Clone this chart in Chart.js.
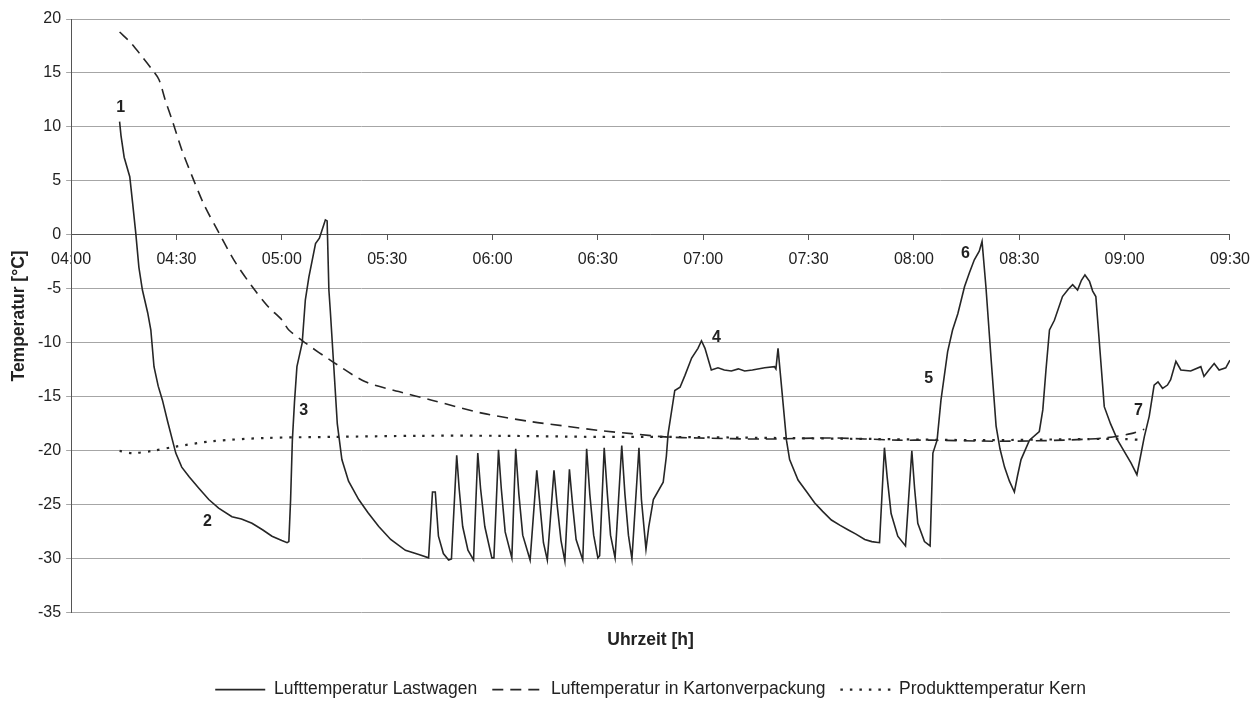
<!DOCTYPE html>
<html>
<head>
<meta charset="utf-8">
<script src="https://cdn.jsdelivr.net/npm/chart.js@4.4.0/dist/chart.umd.min.js"></script>
<style>
html, body { margin: 0; padding: 0; background: #fff; overflow: hidden; }
#wrap { width: 1260px; height: 703px; }
</style>
</head>
<body>
<div id="wrap"><canvas id="tempChart"></canvas></div>
<script>
// minutes after 04:00
var xTickLabels = ['04:00', '04:30', '05:00', '05:30', '06:00', '06:30', '07:00', '07:30', '08:00', '08:30', '09:00', '09:30'];

var truckTime = [13.8, 14.2, 15.1, 16.7, 17.5, 18.4, 19.3, 20.3, 21.8, 22.7, 23.6, 24.8, 26.0, 27.5, 29.8, 31.5, 33.6, 36.5, 39.2, 42, 45.8, 48.5, 51.5, 54.5, 57.2, 60, 61.5, 62.0, 62.5, 63.0, 63.6, 64.3, 65.8, 66.7, 67.7, 69.6, 70.7, 72.0, 72.4, 72.9, 73.4, 73.8, 74.8, 75.8, 77.1, 79.0, 81.9, 84.5, 87.6, 91, 95.2, 99, 101.8, 102.5, 102.9, 103.7, 104.6, 106, 107.5, 108.3, 109.8, 110.5, 111.5, 113, 114.6, 115.8, 116.6, 117.8, 119.8, 120.4, 121.7, 122.5, 123.6, 125.5, 126.6, 127.5, 128.6, 130.7, 132.6, 133.5, 134.5, 135.6, 137.5, 138.4, 139.5, 140.6, 141.9, 142.8, 143.8, 145.7, 146.8, 147.7, 148.8, 150, 150.5, 151.8, 152.7, 153.6, 154.9, 156.8, 157.7, 158.7, 159.7, 161.7, 162.4, 163.7, 164.5, 165.8, 168.6, 169.5, 170, 171.9, 173.4, 174.8, 176.7, 178.5, 179.5, 180.5, 182.3, 184.2, 186, 188, 190, 191.8, 194, 197.5, 200.3, 200.7, 201.3, 202.2, 203.7, 204.6, 207, 209.5, 211.7, 214, 216.5, 219, 221.2, 223.5, 226, 228, 230.2, 231.6, 232.4, 233.5, 235.4, 237.6, 239.4, 240.2, 241.1, 243, 244.6, 245.4, 246.6, 247.7, 249.6, 251, 252.5, 254.4, 255.8, 257.2, 258.6, 259.4, 260.5, 262, 263.4, 264.5, 265.8, 267.2, 268.6, 269.5, 270.5, 272.9, 275.7, 276.7, 277.6, 278.6, 280, 282.3, 284, 285.2, 286.6, 287.7, 288.7, 290, 290.9, 291.8, 294.2, 296, 298, 301.8, 303.5, 305.6, 307, 308.4, 309.5, 310.8, 312.2, 313.1, 314.6, 316, 318.8, 321.7, 322.6, 324, 325.5, 326.9, 328.8, 330];
var truckTemp = [10.5, 9.2, 7.2, 5.4, 3.0, 0.2, -3.0, -5.1, -7.2, -8.8, -12.2, -14.0, -15.3, -17.3, -20.2, -21.5, -22.4, -23.5, -24.5, -25.3, -26.1, -26.3, -26.7, -27.3, -27.9, -28.3, -28.5, -28.4, -24.5, -19.0, -15.5, -12.2, -10.0, -6.0, -3.9, -0.8, -0.3, 1.0, 1.4, 1.3, -5.1, -7.0, -12.2, -17.5, -20.8, -22.8, -24.5, -25.7, -27.0, -28.2, -29.2, -29.6, -29.9, -26.0, -23.8, -23.8, -27.9, -29.5, -30.1, -30.0, -20.4, -23.5, -27.0, -29.2, -30.1, -20.2, -23.5, -27.0, -29.9, -29.9, -19.9, -23.5, -27.5, -29.9, -19.8, -24.0, -27.8, -30.1, -21.8, -25.0, -28.5, -30.1, -21.8, -25.0, -28.3, -30.2, -21.7, -25.0, -28.2, -30.1, -19.8, -24.0, -27.8, -29.9, -29.7, -19.7, -24.0, -27.8, -29.9, -19.5, -24.0, -27.8, -30.0, -19.7, -24.5, -29.1, -27.0, -24.5, -22.9, -20.5, -18.4, -14.4, -14.1, -13.0, -11.4, -10.5, -9.8, -10.5, -12.5, -12.3, -12.5, -12.6, -12.4, -12.6, -12.5, -12.3, -12.2, -12.4, -10.5, -13.7, -19.0, -20.8, -22.7, -23.8, -24.8, -25.6, -26.4, -26.9, -27.3, -27.7, -28.2, -28.4, -28.5, -19.7, -22.5, -25.8, -27.9, -28.8, -20.0, -23.5, -26.7, -28.4, -28.8, -20.2, -19.0, -15.3, -10.8, -8.8, -7.3, -4.8, -3.5, -2.3, -1.5, -0.6, -4.8, -11.6, -17.7, -19.8, -21.5, -22.8, -23.8, -22.3, -20.8, -19.0, -18.2, -16.2, -12.5, -8.8, -7.9, -5.7, -5.0, -4.6, -5.1, -4.2, -3.7, -4.3, -5.2, -5.7, -15.9, -17.5, -19.0, -21.1, -22.2, -18.7, -16.8, -13.9, -13.6, -14.2, -13.9, -13.4, -11.7, -12.5, -12.6, -12.2, -13.1, -12.5, -11.9, -12.5, -12.3, -11.6];

var boxTime = [13.8, 17, 20, 23.1, 25, 26.8, 28.8, 31.5, 34.5, 38, 42.1, 46.5, 51.6, 56, 60.1, 62, 66.7, 74.3, 83.8, 93.3, 102.7, 117, 131.2, 140.7, 150.1, 159.6, 169.1, 178.6, 197.5, 216.5, 235.4, 244.9, 263.9, 282.8, 294.2, 301.8, 305.6];
var boxTemp = [18.8, 17.8, 16.6, 15.3, 14.4, 12.5, 10.6, 7.9, 5.4, 2.7, 0.2, -2.4, -4.8, -6.6, -7.9, -8.8, -10.0, -11.7, -13.6, -14.5, -15.3, -16.5, -17.3, -17.7, -18.1, -18.4, -18.7, -18.8, -18.9, -18.8, -19.0, -19.0, -19.1, -19.0, -18.8, -18.4, -18.0];

var coreTime = [13.8, 17.4, 23.1, 29.8, 40.2, 55.4, 74.3, 99, 121.7, 150, 169, 200, 230, 260, 290, 300, 305.6];
var coreTemp = [-20.0, -20.2, -20.0, -19.6, -19.1, -18.8, -18.7, -18.6, -18.6, -18.7, -18.7, -18.8, -18.9, -19.0, -18.9, -18.9, -19.0];

var markerText = ['1', '2', '3', '4', '5', '6', '7'];
var markerTime = [14.1, 38.8, 66.2, 183.8, 244.2, 254.7, 303.9];
var markerTemp = [11.8, -26.5, -16.3, -9.5, -13.3, -1.7, -16.3];

function toPoints(xs, ys) {
    var pts = [];
    for (var i = 0; i < xs.length; i++) {
        pts.push({x: xs[i], y: ys[i]});
    }
    return pts;
}

// the numbers 1..7 written next to the curve
var markerPlugin = {
    id: 'markers',
    afterDatasetsDraw: function(chart) {
        var ctx = chart.ctx, xs = chart.scales.x, ys = chart.scales.y;
        ctx.save();
        ctx.font = 'bold 16px "Liberation Sans", Arial, sans-serif';
        ctx.fillStyle = '#222';
        ctx.textAlign = 'center';
        ctx.textBaseline = 'middle';
        for (var i = 0; i < markerText.length; i++) {
            ctx.fillText(markerText[i], xs.getPixelForValue(markerTime[i]), ys.getPixelForValue(markerTemp[i]));
        }
        ctx.restore();
    }
};

Chart.defaults.font.family = '"Liberation Sans", Arial, sans-serif';
Chart.defaults.font.size = 16;
Chart.defaults.color = '#222';

var tempCtx = document.getElementById('tempChart').getContext('2d');
var tempChart = new Chart(tempCtx, {
    type: 'line',
    data: {
        datasets: [{
            label: 'Lufttemperatur Lastwagen',
            data: toPoints(truckTime, truckTemp),
            borderColor: '#262626',
            borderWidth: 1.6,
            pointRadius: 0,
            tension: 0,
            fill: false
        }, {
            label: 'Luftemperatur in Kartonverpackung',
            data: toPoints(boxTime, boxTemp),
            borderColor: '#262626',
            borderWidth: 1.6,
            borderDash: [11, 7],
            pointRadius: 0,
            tension: 0.3,
            fill: false
        }, {
            label: 'Produkttemperatur Kern',
            data: toPoints(coreTime, coreTemp),
            borderColor: '#262626',
            borderWidth: 2.2,
            borderDash: [2.5, 7],
            pointRadius: 0,
            tension: 0.3,
            fill: false
        }]
    },
    options: {
        responsive: true,
        maintainAspectRatio: false,
        animation: false,
        layout: { padding: { left: 8, right: 18, top: 19, bottom: -5.4 } },
        scales: {
            x: {
                type: 'linear',
                position: { y: 0 },
                min: 0,
                max: 330,
                ticks: {
                    stepSize: 30,
                    padding: 10,
                    color: '#222',
                    maxRotation: 0,
                    callback: function(value) { return xTickLabels[Math.round(value / 30)]; }
                },
                grid: { drawOnChartArea: false, tickLength: 5, color: '#555' },
                border: { color: '#555', width: 1 }
            },
            x2: {
                type: 'linear',
                axis: 'x',
                position: 'bottom',
                min: 0,
                max: 330,
                ticks: { display: false },
                grid: { display: false, drawTicks: false },
                border: { display: false },
                title: {
                    display: true,
                    text: 'Uhrzeit [h]',
                    font: { weight: 'bold', size: 17.5 },
                    padding: { top: 17, bottom: 15 }
                }
            },
            y: {
                min: -35,
                max: 20,
                ticks: { stepSize: 5, padding: 5, color: '#222' },
                grid: { color: '#a6a6a6', tickLength: 5 },
                border: { color: '#555', width: 1 },
                title: {
                    display: true,
                    text: 'Temperatur [°C]',
                    font: { weight: 'bold', size: 17.5 },
                    padding: { top: 1, bottom: 3 }
                }
            }
        },
        plugins: {
            legend: {
                position: 'bottom',
                fullSize: false,
                labels: {
                    usePointStyle: true,
                    pointStyle: 'line',
                    pointStyleWidth: 50,
                    padding: 15,
                    color: '#222',
                    font: { size: 17.5 },
                    generateLabels: function(chart) {
                        var items = Chart.defaults.plugins.legend.labels.generateLabels(chart);
                        items.forEach(function(item) {
                            var ds = chart.data.datasets[item.datasetIndex];
                            item.lineDash = ds.borderDash || [];
                            item.lineWidth = ds.borderWidth;
                            item.strokeStyle = ds.borderColor;
                        });
                        return items;
                    }
                }
            },
            tooltip: { enabled: false }
        }
    },
    plugins: [markerPlugin]
});
</script>
</body>
</html>
